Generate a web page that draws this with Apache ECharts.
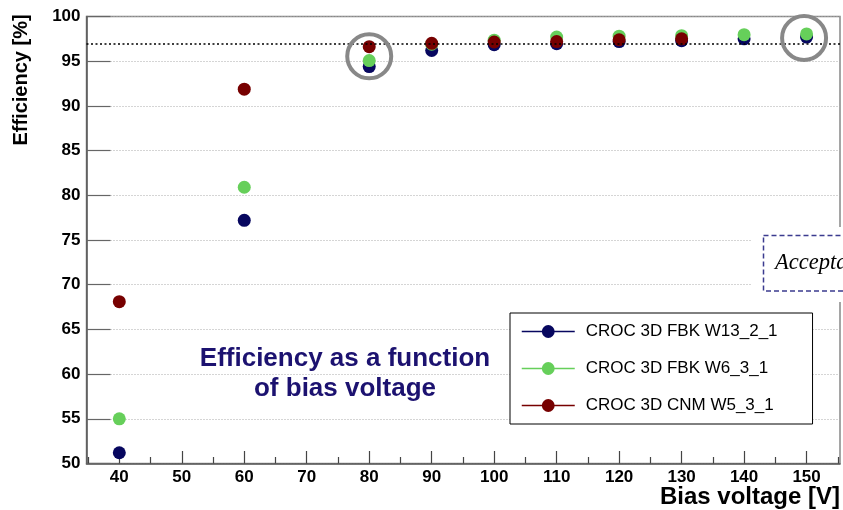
<!DOCTYPE html>
<html>
<head>
<meta charset="utf-8">
<script src="https://cdn.jsdelivr.net/npm/echarts@6/dist/echarts.min.js"></script>
<style>html,body{margin:0;padding:0;background:#fff}#c{width:843px;height:510px}</style>
</head>
<body>
<div id="c"></div>
<script>
const biasVoltage = [40, 60, 80, 90, 100, 110, 120, 130, 140, 150];
const fbkW13_2_1 = [51.2, 77.2, 94.4, 96.2, 96.85, 96.95, 97.2, 97.3, 97.5, 97.7];
const fbkW6_3_1 = [55.0, 80.9, 95.07, 96.9, 97.35, 97.7, 97.8, 97.85, 97.97, 98.05];
const cnmW5_3_1 = [68.1, 91.87, 96.63, 97.0, 97.15, 97.2, 97.4, 97.5];
const seriesNames = ['CROC 3D FBK W13_2_1', 'CROC 3D FBK W6_3_1', 'CROC 3D CNM W5_3_1'];
const xMajorTicks = [40, 50, 60, 70, 80, 90, 100, 110, 120, 130, 140, 150];
const xMinorTicks = [35, 45, 55, 65, 75, 85, 95, 105, 115, 125, 135, 145, 155];
const threshold = 97;
const circledPoints = [[80, 95.55], [149.6, 97.6]];

const colors = ['#07075f', '#66cf5a', '#770000'];
const FONT = 'Liberation Sans, Arial, Helvetica, sans-serif';

function pairs(ys) { return ys.map((y, i) => [biasVoltage[i], y]); }

const chart = echarts.init(document.getElementById('c'), null, {renderer: 'canvas'});
const baseSeries = (name, ys, color) => ({
  name: name,
  type: 'line',
  data: pairs(ys),
  symbol: 'circle',
  symbolSize: 13,
  itemStyle: {color: color},
  lineStyle: {width: 0, opacity: 0, color: color},
  emphasis: {disabled: true},
  z: 3
});

const s0 = baseSeries(seriesNames[0], fbkW13_2_1, colors[0]);
s0.markLine = {
  silent: true,
  symbol: 'none',
  label: {show: false},
  lineStyle: {color: '#000', type: [2, 2.5], width: 1.6},
  data: [{yAxis: threshold}],
  animation: false
};
const s1 = baseSeries(seriesNames[1], fbkW6_3_1, colors[1]);
const s2 = baseSeries(seriesNames[2], cnmW5_3_1, colors[2]);
s2.markPoint = {
  symbol: 'circle',
  symbolSize: 44,
  silent: true,
  label: {show: false},
  itemStyle: {color: 'rgba(0,0,0,0)', borderColor: '#888', borderWidth: 4},
  data: circledPoints.map(c => ({coord: c})),
  animation: false
};

const option = {
  animation: false,
  backgroundColor: '#fff',
  grid: {left: 86.5, right: 3, top: 16.5, bottom: 46.5, show: true, borderColor: '#888', borderWidth: 1.5, backgroundColor: 'transparent'},
  xAxis: [{
    type: 'value', min: 34.75, max: 155.35, position: 'bottom',
    axisLine: {lineStyle: {color: '#555', width: 1.5}},
    axisTick: {inside: true, length: 12.5, customValues: xMajorTicks, lineStyle: {color: '#444', width: 1.2}},
    axisLabel: {customValues: xMajorTicks, fontSize: 17, fontWeight: 'bold', color: '#000', margin: 5, fontFamily: FONT},
    splitLine: {show: false}
  }, {
    type: 'value', min: 34.75, max: 155.35, position: 'bottom',
    axisLine: {show: false},
    axisTick: {inside: true, length: 6.5, customValues: xMinorTicks, lineStyle: {color: '#444', width: 1.2}},
    axisLabel: {show: false},
    splitLine: {show: false}
  }],
  yAxis: {
    type: 'value', min: 50, max: 100, interval: 5,
    axisLine: {show: true, lineStyle: {color: '#555', width: 1.5}},
    axisTick: {show: true, inside: true, length: 24, lineStyle: {color: '#666', width: 1.2}},
    axisLabel: {fontSize: 17, fontWeight: 'bold', color: '#000', margin: 6, fontFamily: FONT},
    splitLine: {show: true, lineStyle: {color: '#aaa', type: [1, 2], width: 1}}
  },
  legend: {
    orient: 'vertical',
    left: 510, top: 313,
    padding: [10, 35, 10, 11],
    itemWidth: 53, itemHeight: 16,
    itemGap: 20,
    backgroundColor: '#fff',
    borderColor: '#000', borderWidth: 1,
    textStyle: {fontSize: 17, color: '#000', fontFamily: FONT, padding: [0, 0, 0, 6]},
    lineStyle: {width: 1.5, opacity: 1},
    selectedMode: false,
    data: seriesNames
  },
  series: [s0, s1, s2],
  graphic: [
    {type: 'rect', z: 100, shape: {x: 752, y: 227, width: 100, height: 75}, style: {fill: '#fff'}},
    {type: 'rect', z: 101, shape: {x: 763.5, y: 235.5, width: 100, height: 55.5}, style: {fill: '#fff', stroke: '#3b3b8f', lineWidth: 1.5, lineDash: [5, 3]}},
    {type: 'text', z: 102, x: 775, y: 263, style: {text: 'Acceptance threshold', font: 'italic 22.5px "Liberation Serif", "Times New Roman", serif', fill: '#000', textAlign: 'left', textVerticalAlign: 'middle'}},
    {type: 'text', z: 102, x: 345, y: 359, style: {text: 'Efficiency as a function', font: 'bold 26px ' + FONT, fill: '#1c1270', textAlign: 'center', textVerticalAlign: 'middle'}},
    {type: 'text', z: 102, x: 345, y: 389, style: {text: 'of bias voltage', font: 'bold 26px ' + FONT, fill: '#1c1270', textAlign: 'center', textVerticalAlign: 'middle'}},
    {type: 'text', z: 102, x: 21.5, y: 80, rotation: Math.PI / 2, style: {text: 'Efficiency [%]', font: 'bold 20px ' + FONT, fill: '#000', textAlign: 'center', textVerticalAlign: 'middle'}},
    {type: 'text', z: 102, x: 840, y: 497, style: {text: 'Bias voltage [V]', font: 'bold 24px ' + FONT, fill: '#000', textAlign: 'right', textVerticalAlign: 'middle'}}
  ]
};
chart.setOption(option);
</script>
</body>
</html>
